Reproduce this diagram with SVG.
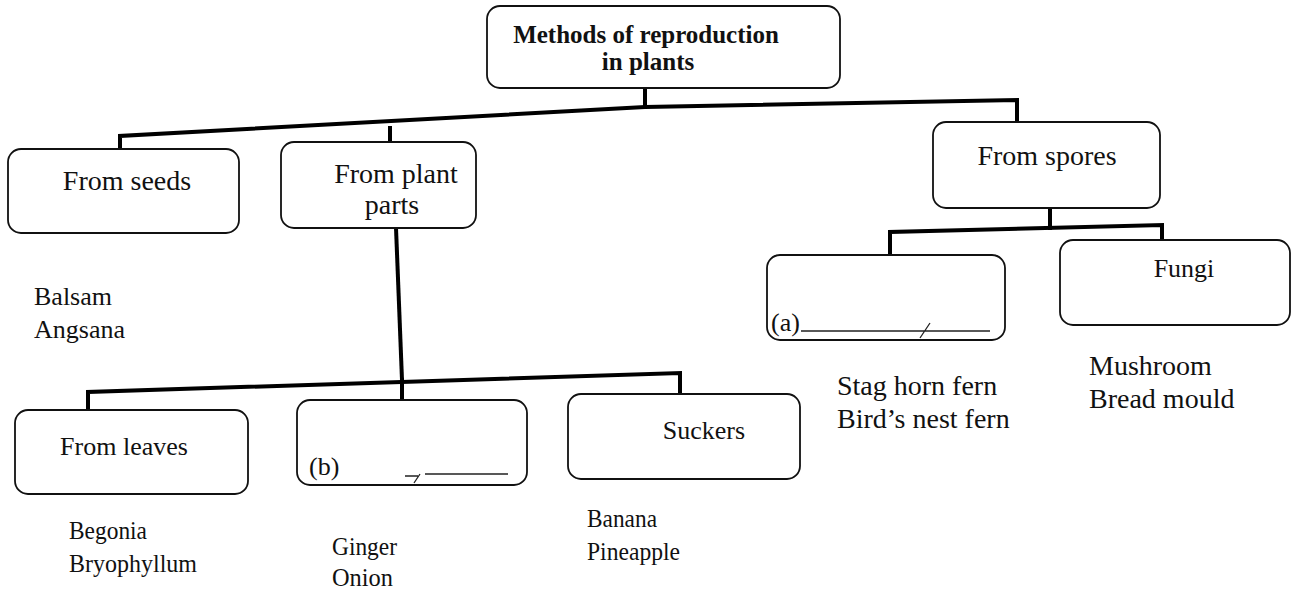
<svg xmlns="http://www.w3.org/2000/svg" width="1296" height="593" viewBox="0 0 1296 593" font-family="'Liberation Serif', 'DejaVu Serif', serif">
<style>
.box{fill:#fff;stroke:#111;stroke-width:1.8}
.conn{fill:none;stroke:#000;stroke-width:4;stroke-linejoin:miter;stroke-linecap:square}
.tx{font-family:'Liberation Serif', 'DejaVu Serif', serif;font-size:26px;fill:#111}
.lg{font-size:28px}
.t{font-family:'Liberation Serif', 'DejaVu Serif', serif;font-weight:bold;font-size:25px;fill:#111}
.ul{fill:none;stroke:#222;stroke-width:1.3}
</style>
<rect width="1296" height="593" fill="#fff"/>
<g id="connectors">
<polyline class="conn" points="645,88 645,107"/>
<polyline class="conn" points="120,150 120,136 645,107 1017,100 1017,122"/>
<polyline class="conn" points="390,128 390,142"/>
<polyline class="conn" points="396,228 402,380"/>
<polyline class="conn" points="88,410 88,392 680,373 680,394"/>
<polyline class="conn" points="402,380 402,400"/>
<polyline class="conn" points="1050,208 1050,228"/>
<polyline class="conn" points="890,256 890,232 1162,225 1162,243"/>
</g>
<g id="n-root">
<rect class="box" x="487" y="6" width="353" height="82" rx="13"/>
<text class="t" x="646" y="43" text-anchor="middle">Methods of reproduction</text>
<text class="t" x="648" y="70" text-anchor="middle">in plants</text>
</g>
<g id="n-seeds">
<rect class="box" x="8" y="149" width="231" height="84" rx="13"/>
<text class="tx lg" x="127" y="190" text-anchor="middle">From seeds</text>
</g>
<g id="n-parts">
<rect class="box" x="281" y="142" width="195" height="86" rx="13"/>
<text class="tx lg" x="396" y="183" text-anchor="middle">From plant</text>
<text class="tx lg" x="392" y="214" text-anchor="middle">parts</text>
</g>
<g id="n-spores">
<rect class="box" x="933" y="122" width="227" height="86" rx="13"/>
<text class="tx lg" x="1047" y="165" text-anchor="middle">From spores</text>
</g>
<g id="n-leaves">
<rect class="box" x="15" y="410" width="233" height="84" rx="13"/>
<text class="tx" x="124" y="455" text-anchor="middle">From leaves</text>
</g>
<g id="n-b">
<rect class="box" x="297" y="400" width="230" height="85" rx="13"/>
<text class="tx" x="309" y="475">(b)</text>
<path class="ul" d="M405,476 H418 M425,474 H508 M420,474 L414,483"/>
</g>
<g id="n-suckers">
<rect class="box" x="568" y="394" width="232" height="85" rx="13"/>
<text class="tx" x="704" y="439" text-anchor="middle" font-size="25">Suckers</text>
</g>
<g id="n-a">
<rect class="box" x="767" y="255" width="238" height="85" rx="13"/>
<text class="tx" x="771" y="331">(a)</text>
<path class="ul" d="M801,331 H990 M930,323 L920,338"/>
</g>
<g id="n-fungi">
<rect class="box" x="1060" y="240" width="230" height="85" rx="13"/>
<text class="tx" x="1184" y="277" text-anchor="middle" font-size="27">Fungi</text>
</g>
<g id="examples">
<text class="tx" x="34" y="305" font-size="27">Balsam</text>
<text class="tx" x="34" y="338" font-size="27">Angsana</text>
<text class="tx" x="69" y="539" textLength="78" lengthAdjust="spacingAndGlyphs">Begonia</text>
<text class="tx" x="69" y="572" textLength="128" lengthAdjust="spacingAndGlyphs">Bryophyllum</text>
<text class="tx" x="332" y="555" textLength="65" lengthAdjust="spacingAndGlyphs">Ginger</text>
<text class="tx" x="332" y="586" textLength="61" lengthAdjust="spacingAndGlyphs">Onion</text>
<text class="tx" x="587" y="527" textLength="70" lengthAdjust="spacingAndGlyphs">Banana</text>
<text class="tx" x="587" y="560" textLength="93" lengthAdjust="spacingAndGlyphs">Pineapple</text>
<text class="tx lg" x="837" y="395">Stag horn fern</text>
<text class="tx lg" x="837" y="428">Bird’s nest fern</text>
<text class="tx lg" x="1089" y="375">Mushroom</text>
<text class="tx lg" x="1089" y="408">Bread mould</text>
</g>
</svg>
